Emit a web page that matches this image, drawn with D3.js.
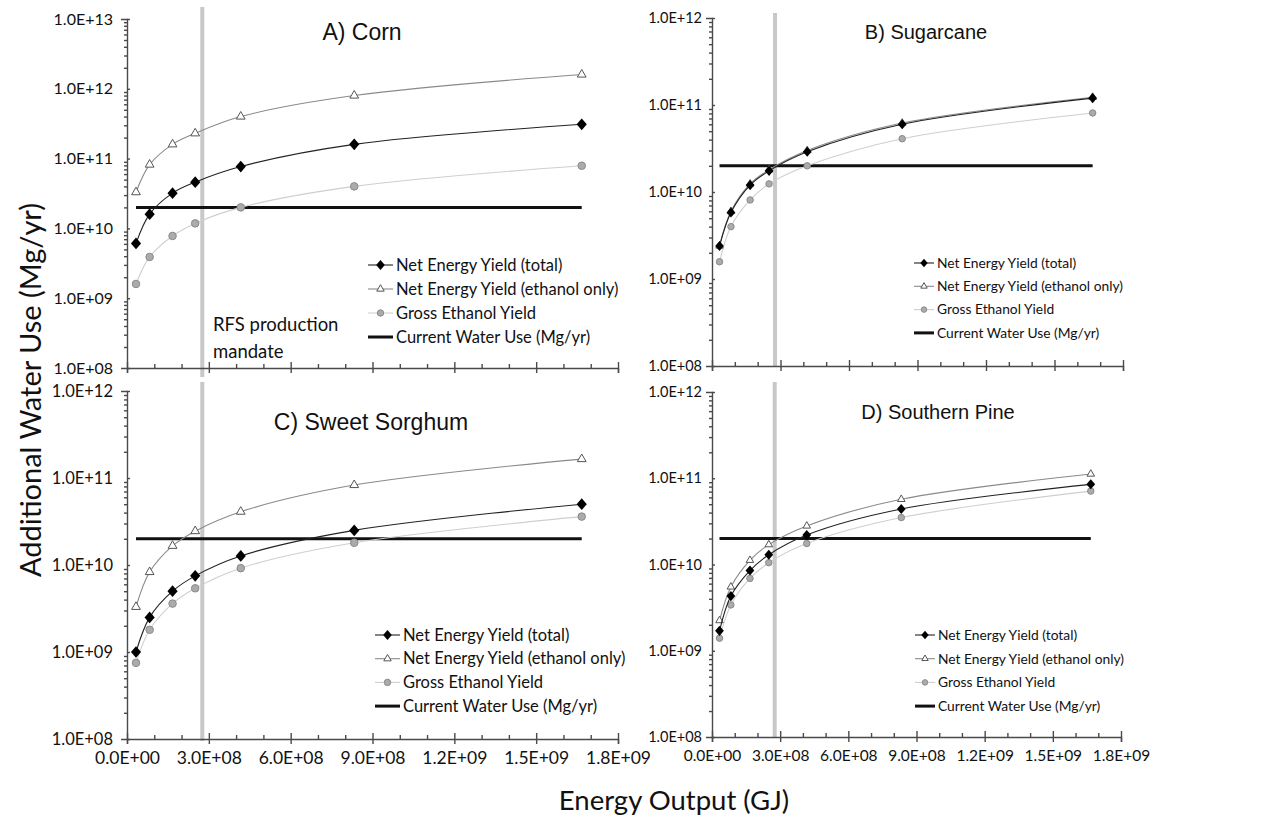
<!DOCTYPE html>
<html>
<head>
<meta charset="utf-8">
<script src="https://cdn.jsdelivr.net/npm/d3@7"></script>
<style>
  body { margin: 0; background: #fff; }
  svg text { fill: #111; }
</style>
</head>
<body>
<svg id="chart" width="1267" height="824"></svg>
<script>
// energy output (GJ) for every point, same in all four panels
const energyOutput = [3.3e7, 8.3e7, 1.67e8, 2.5e8, 4.17e8, 8.33e8, 1.667e9];

const seriesNames = ["Net Energy Yield (total)", "Net Energy Yield (ethanol only)", "Gross Ethanol Yield", "Current Water Use (Mg/yr)"];
const panelTitles = ["A) Corn", "B) Sugarcane", "C) Sweet Sorghum", "D) Southern Pine"];

// additional water use (Mg/yr)
const cornTotal    = [6.1e9, 1.6e10, 3.2e10, 4.6e10, 7.7e10, 1.6e11, 3.1e11];
const cornEthanol  = [3.3e10, 8.2e10, 1.6e11, 2.3e11, 4.0e11, 8.0e11, 1.6e12];
const cornGross    = [1.6e9, 3.9e9, 7.8e9, 1.18e10, 2.0e10, 4.0e10, 7.9e10];

const caneTotal    = [2.4e9, 5.8e9, 1.2e10, 1.75e10, 2.9e10, 6.0e10, 1.2e11];
const caneEthanol  = [2.4e9, 6.0e9, 1.24e10, 1.8e10, 3.0e10, 6.2e10, 1.23e11];
const caneGross    = [1.58e9, 4.0e9, 8.1e9, 1.24e10, 2.0e10, 4.1e10, 8.1e10];

const sorghumTotal   = [1.0e9, 2.5e9, 5.0e9, 7.5e9, 1.27e10, 2.5e10, 5.0e10];
const sorghumEthanol = [3.3e9, 8.3e9, 1.66e10, 2.45e10, 4.1e10, 8.3e10, 1.65e11];
const sorghumGross   = [7.5e8, 1.8e9, 3.6e9, 5.4e9, 9.2e9, 1.8e10, 3.6e10];

const pineTotal    = [1.7e9, 4.3e9, 8.5e9, 1.3e10, 2.2e10, 4.4e10, 8.5e10];
const pineEthanol  = [2.24e9, 5.5e9, 1.12e10, 1.7e10, 2.8e10, 5.7e10, 1.12e11];
const pineGross    = [1.4e9, 3.4e9, 6.9e9, 1.05e10, 1.75e10, 3.5e10, 7.1e10];

const currentWaterUse = 2.0e10;
const rfsMandate = 2.76e8;

const xTickValues = [0, 3e8, 6e8, 9e8, 1.2e9, 1.5e9, 1.8e9];
const xMinorValues = [1e8, 2e8, 4e8, 5e8, 7e8, 8e8, 1e9, 1.1e9, 1.3e9, 1.4e9, 1.6e9, 1.7e9];

const panels = [
    { title: panelTitles[0], total: cornTotal, ethanol: cornEthanol, gross: cornGross, yMax: 1e13,
      left: 127, right: 618, top: 19, bottom: 368, rfsTop: 7, rfsBottom: 377, xLabels: false,
      titleX: 362, titleY: 40, titleSize: 23,
      legX: 368, legY: 265, legStep: 24, legSize: 16.5, legLine: 25,
      yTickSize: 16, yPad: 8, xTickSize: 17.5, mark: 1.05 },
    { title: panelTitles[1], total: caneTotal, ethanol: caneEthanol, gross: caneGross, yMax: 1e12,
      left: 712, right: 1123, top: 18, bottom: 366, rfsTop: 13, rfsBottom: 367, xLabels: false,
      titleX: 926, titleY: 39, titleSize: 20,
      legX: 914, legY: 263, legStep: 23.3, legSize: 13.8, legLine: 20,
      yTickSize: 14.5, yPad: 4, xTickSize: 15.5, mark: 0.9 },
    { title: panelTitles[2], total: sorghumTotal, ethanol: sorghumEthanol, gross: sorghumGross, yMax: 1e12,
      left: 127, right: 618, top: 391, bottom: 739, rfsTop: 382, rfsBottom: 741, xLabels: true,
      titleX: 371, titleY: 430, titleSize: 23,
      legX: 375, legY: 635, legStep: 23.7, legSize: 16.5, legLine: 25,
      yTickSize: 16.5, yPad: 8, xTickSize: 17.5, mark: 1.05 },
    { title: panelTitles[3], total: pineTotal, ethanol: pineEthanol, gross: pineGross, yMax: 1e12,
      left: 712, right: 1121, top: 392, bottom: 737, rfsTop: 382, rfsBottom: 737, xLabels: true,
      titleX: 938, titleY: 419, titleSize: 20,
      legX: 915, legY: 635, legStep: 23.7, legSize: 13.8, legLine: 20,
      yTickSize: 14.5, yPad: 4, xTickSize: 15.5, mark: 0.9 }
];

const svg = d3.select('#chart');
const axisColor = '#4a4a4a';
const labelFont = 'Lato, "Open Sans", sans-serif';

function sciFormat(d) {
    if (d === 0) return '0.0E+00';
    const parts = d.toExponential(1).split('e');
    const sign = parts[1][0];
    const n = Math.abs(+parts[1]);
    return parts[0] + 'E' + sign + String(n).padStart(2, '0');
}

const styles = {
    total:   { line: '#222', width: 1.1 },
    ethanol: { line: '#8a8a8a', width: 1.1 },
    gross:   { line: '#cfcfcf', width: 1.1 }
};

function drawMarker(g, kind, x, y, s) {
    if (kind === 'total') {
        g.append('path')
        .attr('d', d3.symbol(d3.symbolDiamond2, 60 * s * s)())
        .attr('transform', `translate(${x},${y}) scale(1,1.15)`)
        .attr('fill', '#000');
    } else if (kind === 'ethanol') {
        g.append('path')
        .attr('d', d3.symbol(d3.symbolTriangle2, 50 * s * s)())
        .attr('transform', `translate(${x},${y})`)
        .attr('fill', '#fff')
        .attr('stroke', '#555')
        .attr('stroke-width', 1);
    } else {
        g.append('circle')
        .attr('cx', x).attr('cy', y).attr('r', 3.6 * s)
        .attr('fill', '#ababab')
        .attr('stroke', '#8a8a8a')
        .attr('stroke-width', 1);
    }
}

panels.forEach(p => {
    const x = d3.scaleLinear().domain([0, 1.8e9]).range([p.left, p.right]);
    const y = d3.scaleLog().domain([1e8, p.yMax]).range([p.bottom, p.top]);

    const g = svg.append('g');

    // RFS production mandate
    g.append('line')
    .attr('x1', x(rfsMandate)).attr('x2', x(rfsMandate))
    .attr('y1', p.rfsTop).attr('y2', p.rfsBottom)
    .attr('stroke', '#c8c8c8')
    .attr('stroke-width', 4);

    // y axis
    const majors = d3.range(8, Math.log10(p.yMax) + 1).map(e => Math.pow(10, e));
    const minors = [];
    for (let e = 8; e < Math.log10(p.yMax); e++) {
        for (let m = 2; m < 10; m++) minors.push(m * Math.pow(10, e));
    }

    const yAxis = g.append('g')
    .attr('transform', `translate(${p.left},0)`)
    .call(d3.axisLeft(y).tickValues(majors).tickFormat(sciFormat).tickSize(6).tickPadding(p.yPad));
    yAxis.selectAll('.tick line').attr('x2', 3);
    yAxis.selectAll('.tick text').style('font-size', p.yTickSize + 'px');

    g.append('g')
    .attr('transform', `translate(${p.left},0)`)
    .call(d3.axisLeft(y).tickValues(minors).tickFormat('').tickSize(3))
    .select('.domain').remove();

    // x axis
    const xAxis = g.append('g')
    .attr('transform', `translate(0,${p.bottom})`)
    .call(d3.axisBottom(x).tickValues(xTickValues).tickFormat(p.xLabels ? sciFormat : '').tickSize(5).tickPadding(8));
    xAxis.selectAll('.tick line').attr('y1', -6);
    xAxis.selectAll('.tick text').style('font-size', p.xTickSize + 'px');

    g.append('g')
    .attr('transform', `translate(0,${p.bottom})`)
    .call(d3.axisBottom(x).tickValues(xMinorValues).tickFormat('').tickSize(0))
    .call(a => a.select('.domain').remove())
    .selectAll('.tick line').attr('y1', -4);

    g.selectAll('.domain, .tick line')
    .attr('stroke', axisColor)
    .attr('stroke-width', 1.4);
    g.selectAll('.tick text')
    .style('font-family', labelFont)
    .attr('fill', '#111');

    // current water use
    g.append('line')
    .attr('x1', x(energyOutput[0])).attr('x2', x(energyOutput[energyOutput.length - 1]))
    .attr('y1', y(currentWaterUse)).attr('y2', y(currentWaterUse))
    .attr('stroke', '#111')
    .attr('stroke-width', 3);

    // series
    ['gross', 'ethanol', 'total'].forEach(kind => {
        const values = p[kind];
        const line = d3.line()
        .x((d, i) => x(energyOutput[i]))
        .y(d => y(d))
        .curve(d3.curveCatmullRom.alpha(0.5));

        g.append('path')
        .datum(values)
        .attr('d', line)
        .attr('fill', 'none')
        .attr('stroke', styles[kind].line)
        .attr('stroke-width', styles[kind].width);

        values.forEach((v, i) => drawMarker(g, kind, x(energyOutput[i]), y(v), p.mark));
    });

    // title
    g.append('text')
    .attr('x', p.titleX).attr('y', p.titleY)
    .attr('text-anchor', 'middle')
    .style('font-family', '"Liberation Sans", Arial, sans-serif')
    .style('font-size', p.titleSize + 'px')
    .text(p.title);

    // legend
    const kinds = ['total', 'ethanol', 'gross', 'water'];
    kinds.forEach((kind, i) => {
        const ly = p.legY + i * p.legStep;
        const lx2 = p.legX + p.legLine;
        g.append('line')
        .attr('x1', p.legX).attr('x2', lx2)
        .attr('y1', ly).attr('y2', ly)
        .attr('stroke', kind === 'water' ? '#111' : styles[kind].line)
        .attr('stroke-width', kind === 'water' ? 3 : 1.1);
        if (kind !== 'water') drawMarker(g, kind, (p.legX + lx2) / 2, ly, p.mark * 0.85);

        g.append('text')
        .attr('x', lx2 + 3).attr('y', ly)
        .attr('dy', '0.35em')
        .style('font-family', labelFont)
        .style('font-size', p.legSize + 'px')
        .text(seriesNames[i]);
    });
});

// RFS label in panel A
svg.append('text')
.attr('x', 213).attr('y', 331)
.style('font-family', labelFont)
.style('font-size', '18.5px')
.text('RFS production');
svg.append('text')
.attr('x', 213).attr('y', 358)
.style('font-family', labelFont)
.style('font-size', '18.5px')
.text('mandate');

// axis titles
svg.append('text')
.attr('transform', 'translate(41,390) rotate(-90)')
.attr('text-anchor', 'middle')
.style('font-family', labelFont)
.style('font-size', '29px')
.text('Additional Water Use (Mg/yr)');

svg.append('text')
.attr('x', 674).attr('y', 810)
.attr('text-anchor', 'middle')
.style('font-family', labelFont)
.style('font-size', '27.5px')
.text('Energy Output (GJ)');
</script>
</body>
</html>
